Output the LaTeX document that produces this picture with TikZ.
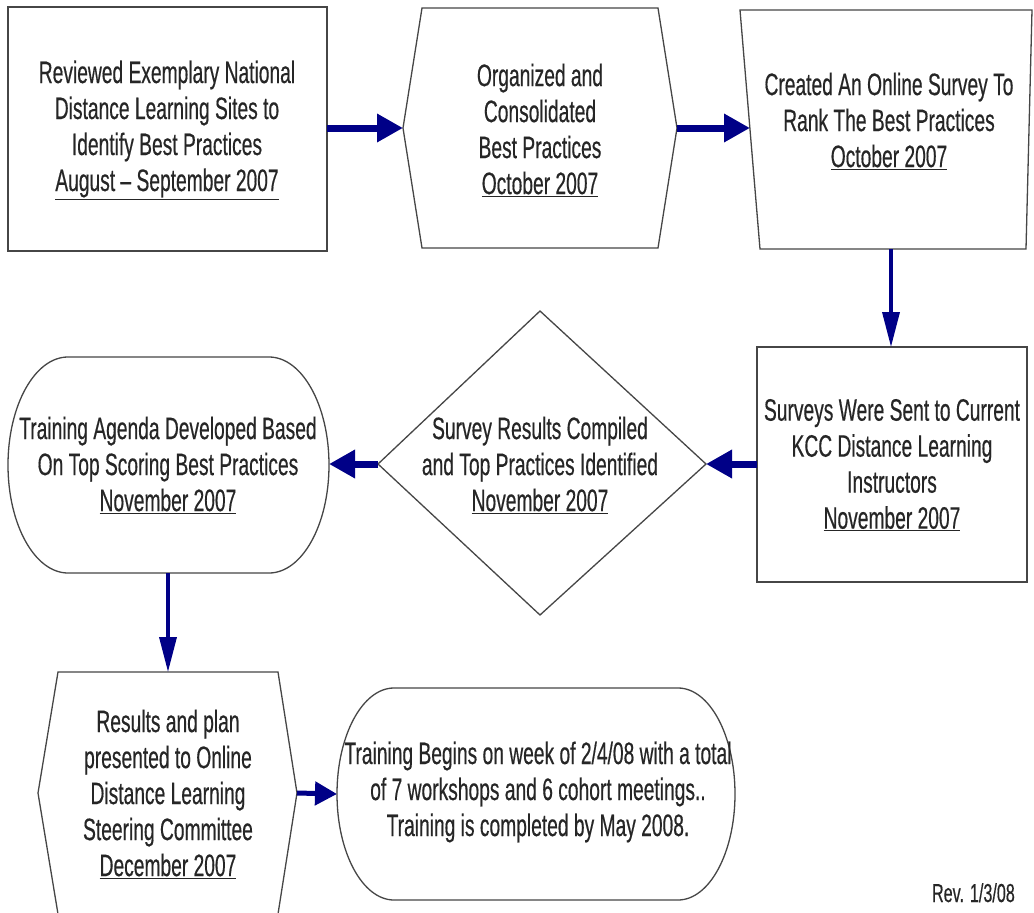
\documentclass[tikz,border=0pt]{standalone}
\usepackage{fontspec}
\setmainfont{Liberation Sans}[FakeStretch=0.62, FakeBold=0.4]
\usetikzlibrary{arrows.meta}
\definecolor{navy}{RGB}{0,0,135}
\definecolor{edgegray}{RGB}{70,70,70}
\begin{document}
\begin{tikzpicture}[x=1pt,y=-1pt,
  outline/.style={draw=edgegray, line width=1.3pt, fill=white, line join=miter},
  lbl/.style={align=center, font=\fontsize{31}{36}\selectfont, inner sep=0pt, text=black!85},
  hlink/.style={draw=navy, line width=7pt, -{Triangle[length=26pt,width=27pt]}},
  slink/.style={draw=navy, line width=5pt, -{Triangle[length=22pt,width=23pt]}},
  vlink/.style={draw=navy, line width=3.5pt, -{Triangle[length=35pt,width=17pt]}}]
\clip (0,0) rectangle (1034,913);
\fill[white] (0,0) rectangle (1034,913);

% 1 rectangle
\draw[outline] (8,7) rectangle (327,251);
\node[lbl] (n1) at (167,130) {Reviewed Exemplary National\\Distance Learning Sites to\\Identify Best Practices\\\underline{August -- September 2007}};
\coordinate (n1e) at (327,128);

% 2 hexagon
\draw[outline] (422,8) -- (658,8) -- (677,128) -- (658,248) -- (422,248) -- (403,128) -- cycle;
\node[lbl] (n2) at (540,130) {Organized and\\Consolidated\\Best Practices\\\underline{October 2007}};
\coordinate (n2w) at (403,128);
\coordinate (n2e) at (677,128);

% 3 trapezoid
\draw[outline] (740,10) -- (1032,10) -- (1026,249) -- (760,249) -- cycle;
\node[lbl] (n3) at (889,121) {Created An Online Survey To\\Rank The Best Practices\\\underline{October 2007}};
\coordinate (n3w) at (750,128);
\coordinate (n3s) at (891,249);

% 4 rectangle
\draw[outline] (757,347) rectangle (1027,582);
\node[lbl] (n4) at (892,465) {Surveys Were Sent to Current\\KCC Distance Learning\\Instructors\\\underline{November 2007}};
\coordinate (n4n) at (891,347);
\coordinate (n4w) at (757,464);

% 5 diamond
\draw[outline] (540,311) -- (706,464) -- (540,615) -- (378,464) -- cycle;
\node[lbl] (n5) at (540,465) {Survey Results Compiled\\and Top Practices Identified\\\underline{November 2007}};
\coordinate (n5e) at (706,464);
\coordinate (n5w) at (378,464);

% 6 stadium
\draw[outline] (68,357) -- (269,357) arc[start angle=90,end angle=-90,x radius=60pt,y radius=108pt]
  -- (68,573) arc[start angle=270,end angle=90,x radius=60pt,y radius=108pt] -- cycle;
\node[lbl] (n6) at (168,465) {Training Agenda Developed Based\\On Top Scoring Best Practices\\\underline{November 2007}};
\coordinate (n6e) at (329,464);
\coordinate (n6s) at (168,573);

% 7 hexagon
\draw[outline] (58,672) -- (278,672) -- (297,793) -- (278,914) -- (58,914) -- (38,793) -- cycle;
\node[lbl] (n7) at (168,794) {Results and plan\\presented to Online\\Distance Learning\\Steering Committee\\\underline{December 2007}};
\coordinate (n7n) at (168,672);
\coordinate (n7e) at (297,793);

% 8 stadium
\draw[outline] (394,688) -- (678,688) arc[start angle=90,end angle=-90,x radius=57pt,y radius=106pt]
  -- (394,900) arc[start angle=270,end angle=90,x radius=57pt,y radius=106pt] -- cycle;
\node[lbl] (n8) at (538,792) {Training Begins on week of 2/4/08 with a total\\of 7 workshops and 6 cohort meetings..\\Training is completed by May 2008.};
\coordinate (n8w) at (337,794);

\node[font=\fontsize{26}{28}\selectfont, anchor=base east, inner sep=0pt, text=black!85] (rev) at (1015,902) {Rev. 1/3/08};

% connectors
\draw[hlink] (n1e) -- (n2w);
\draw[hlink] (n2e) -- (n3w);
\draw[vlink] (n3s) -- (n4n);
\draw[hlink] (n4w) -- (n5e);
\draw[hlink] (n5w) -- (n6e);
\draw[vlink] (n6s) -- (n7n);
\draw[slink] (n7e) -- (n8w);
\end{tikzpicture}
\end{document}
